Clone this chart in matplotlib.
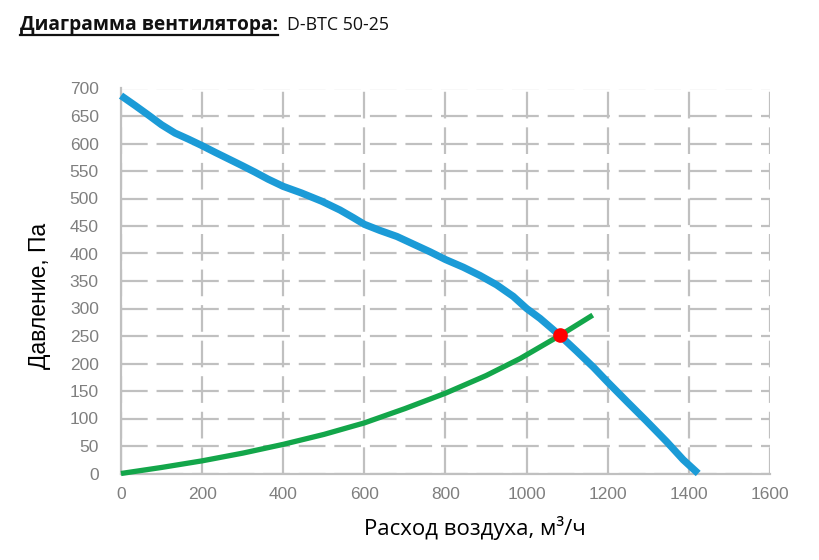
import matplotlib
matplotlib.use("Agg")
import matplotlib.pyplot as plt
from matplotlib.lines import Line2D

# Fan curve (blue)
fan_flow = [0, 35, 67, 100, 133, 166, 200, 232, 265, 298, 330, 363, 400, 445, 495,
            540, 573, 600, 638, 680, 721, 762, 800, 844, 885, 926, 967, 1000, 1033,
            1082, 1124, 1165, 1200, 1247, 1296, 1345, 1386, 1423]
fan_pressure = [687, 669, 652, 634, 619, 608, 596, 584, 572, 560, 548, 535, 522, 510, 495,
                479, 465, 453, 442, 431, 417, 403, 389, 375, 360, 343, 322, 300, 282,
                251, 222, 193, 166, 131, 95, 58, 25, 0]

# System curve (green)
sys_flow = [0, 100, 200, 300, 400, 500, 600, 700, 800, 900, 984, 1033, 1082, 1163]
sys_pressure = [0, 11, 23, 37, 53, 71, 92, 118, 146, 178, 209, 230, 251, 288]

# Operating point
op_flow = [1082]
op_pressure = [251]

x_ticks = [0, 200, 400, 600, 800, 1000, 1200, 1400, 1600]
y_ticks = [0, 50, 100, 150, 200, 250, 300, 350, 400, 450, 500, 550, 600, 650, 700]

title_bold = "Диаграмма вентилятора:"
title_model = "D-BTC 50-25"
xlabel = "Расход воздуха, м³/ч"
ylabel = "Давление, Па"

plt.rcParams['font.family'] = ['Liberation Sans', 'DejaVu Sans']

fig = plt.figure(figsize=(8.2, 5.6), dpi=100)
ax = fig.add_axes([121/820, 1-473.5/560, (770-121)/820, (473.5-88.5)/560])

ax.set_xlim(0, 1600)
ax.set_ylim(0, 700)
ax.set_xticks(x_ticks)
ax.set_yticks(y_ticks)
ax.tick_params(axis='both', length=0, labelsize=12.5, colors='#7f7f7f')
ax.tick_params(axis='y', pad=16)
ax.tick_params(axis='x', pad=10)

grid_color = '#c0c0c0'
ax.grid(True, color=grid_color, linewidth=1.6, linestyle=(0, (12, 4)))
for s in ['top', 'right']:
    ax.spines[s].set_visible(False)
for s in ['left', 'bottom']:
    ax.spines[s].set_color(grid_color)
    ax.spines[s].set_linewidth(1.6)

ax.plot(sys_flow, sys_pressure, color='#13a64a', linewidth=3.8, solid_capstyle='butt',
        solid_joinstyle='round', zorder=3, clip_on=False)
ax.plot(fan_flow, fan_pressure, color='#1b9bd7', linewidth=5.2, solid_capstyle='butt',
        solid_joinstyle='round', zorder=4, clip_on=False)
ax.plot(op_flow, op_pressure, 'o', color='#ff0000', markersize=9.5, zorder=5, clip_on=False)

fig.text(475/820, 1-528/560, xlabel, ha='center', va='center', fontsize=16,
         family=['Open Sans', 'DejaVu Sans'], color='black')
fig.text(40/820, 1-296/560, ylabel, ha='center', va='center', rotation=90, fontsize=16.5, color='black')

t1 = fig.text(20/820, 1-30/560, title_bold, ha='left', va='baseline', fontsize=13.8,
              fontweight='bold', family=['Open Sans', 'DejaVu Sans'], color='#111111')
fig.text(287/820, 1-30/560, title_model, ha='left', va='baseline', fontsize=12.8,
         family=['Open Sans', 'DejaVu Sans'], color='#111111')

fig.canvas.draw()
bb = t1.get_window_extent()
inv = fig.transFigure.inverted()
(x0, _), (x1, _) = inv.transform([(bb.x0, 0), (bb.x1, 0)])
yl = 1 - 35/560
fig.add_artist(Line2D([x0, x1], [yl, yl], transform=fig.transFigure, color='#111111', linewidth=1.6))

fig.savefig('out.png', dpi=100)
